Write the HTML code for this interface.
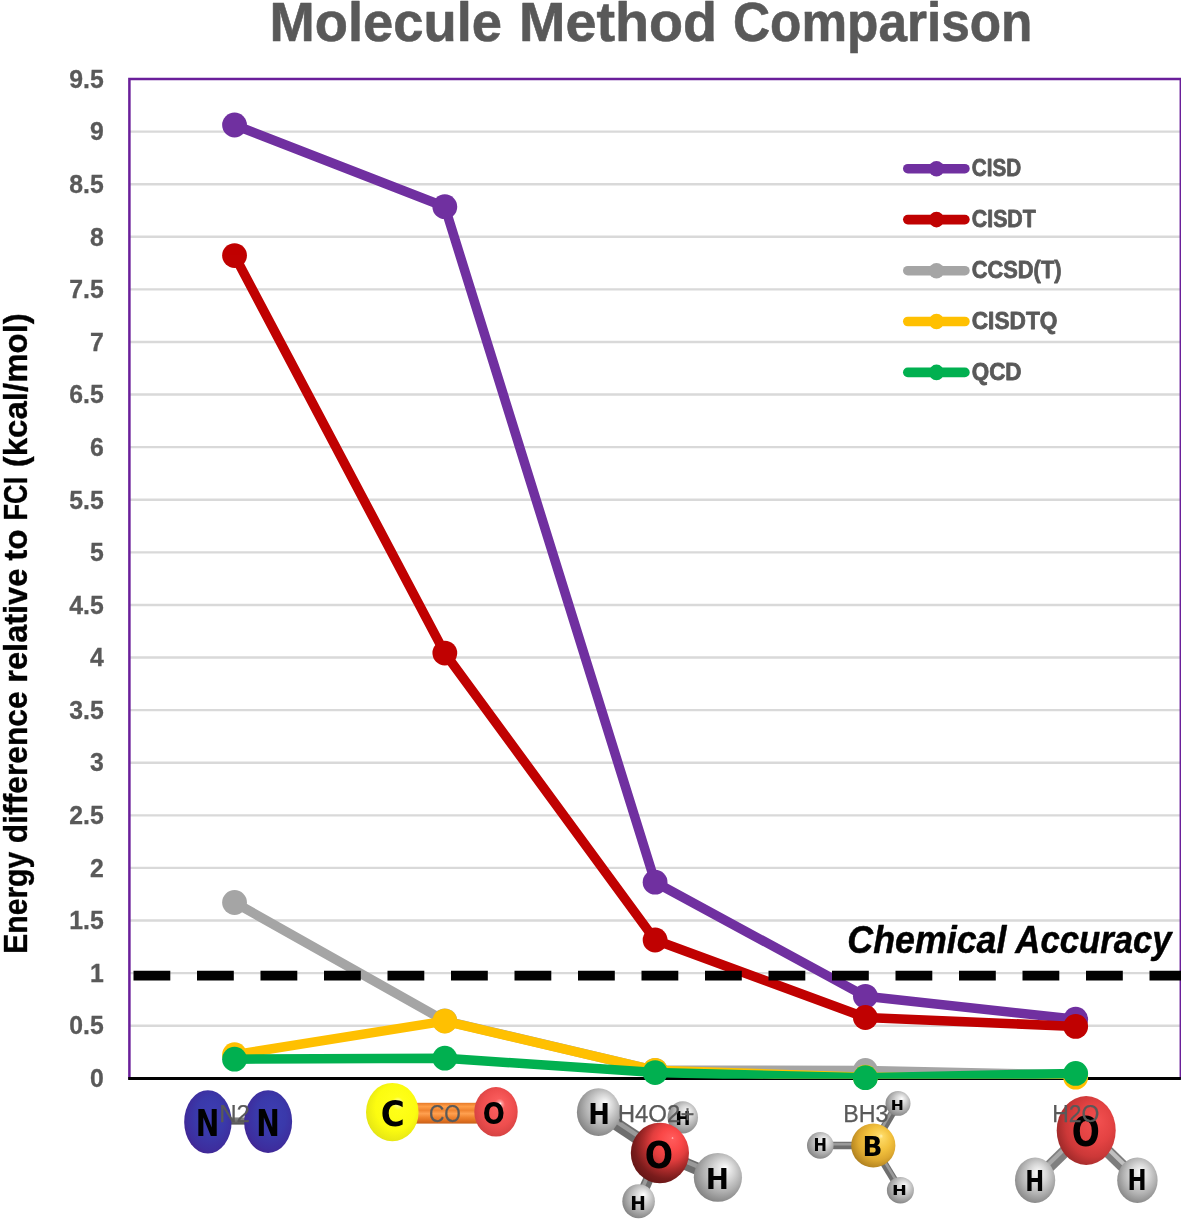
<!DOCTYPE html>
<html lang="en">
<head>
<meta charset="utf-8">
<title>Molecule Method Comparison</title>
<style>
html,body{margin:0;padding:0;background:#fff;}
body{width:1181px;height:1220px;overflow:hidden;}
svg{display:block;will-change:transform;opacity:0.999;}
text{white-space:pre;}
</style>
</head>
<body>
<svg width="1181" height="1220" viewBox="0 0 1181 1220">
<defs>
<radialGradient id="gH" cx="0.55" cy="0.45" r="0.68" fx="0.66" fy="0.3"><stop offset="0" stop-color="#FFFFFF"/><stop offset="0.1" stop-color="#F0F0F0"/><stop offset="0.33" stop-color="#D4D4D4"/><stop offset="0.58" stop-color="#B2B2B2"/><stop offset="0.82" stop-color="#8C8C8C"/><stop offset="1" stop-color="#686868"/></radialGradient>
<radialGradient id="gH2" cx="0.54" cy="0.45" r="0.68" fx="0.58" fy="0.32"><stop offset="0" stop-color="#FFFFFF"/><stop offset="0.1" stop-color="#F0F0F0"/><stop offset="0.33" stop-color="#D6D6D6"/><stop offset="0.58" stop-color="#B4B4B4"/><stop offset="0.82" stop-color="#8E8E8E"/><stop offset="1" stop-color="#6A6A6A"/></radialGradient>
<radialGradient id="gOco" cx="0.52" cy="0.48" r="0.62" fx="0.6" fy="0.33"><stop offset="0" stop-color="#FFFFFF"/><stop offset="0.06" stop-color="#FFA0A0"/><stop offset="0.2" stop-color="#F95C5C"/><stop offset="0.6" stop-color="#EE4E4E"/><stop offset="0.85" stop-color="#D84444"/><stop offset="1" stop-color="#B83636"/></radialGradient>
<radialGradient id="gOh4" cx="0.6" cy="0.4" r="0.74" fx="0.72" fy="0.25"><stop offset="0" stop-color="#FFD0D0"/><stop offset="0.03" stop-color="#FF5A5A"/><stop offset="0.26" stop-color="#FA4747"/><stop offset="0.42" stop-color="#E23E3E"/><stop offset="0.58" stop-color="#B02C2C"/><stop offset="0.76" stop-color="#7A1C1C"/><stop offset="1" stop-color="#541010"/></radialGradient>
<radialGradient id="gOw" cx="0.58" cy="0.45" r="0.72" fx="0.7" fy="0.35"><stop offset="0" stop-color="#F25050"/><stop offset="0.4" stop-color="#E44343"/><stop offset="0.65" stop-color="#CC3838"/><stop offset="0.85" stop-color="#A02A2A"/><stop offset="1" stop-color="#7A1E1E"/></radialGradient>
<radialGradient id="gC" cx="0.53" cy="0.47" r="0.64" fx="0.62" fy="0.33"><stop offset="0" stop-color="#FFFFFF"/><stop offset="0.06" stop-color="#FFFF90"/><stop offset="0.18" stop-color="#FFFF18"/><stop offset="0.6" stop-color="#FCFC10"/><stop offset="0.85" stop-color="#E8E814"/><stop offset="1" stop-color="#C4C41C"/></radialGradient>
<radialGradient id="gB" cx="0.56" cy="0.44" r="0.68" fx="0.68" fy="0.28"><stop offset="0" stop-color="#FFF2B0"/><stop offset="0.08" stop-color="#FDD964"/><stop offset="0.4" stop-color="#F3C23E"/><stop offset="0.65" stop-color="#DEA930"/><stop offset="0.85" stop-color="#B88822"/><stop offset="1" stop-color="#8C6416"/></radialGradient>
<radialGradient id="gN" cx="0.54" cy="0.46" r="0.62" fx="0.58" fy="0.36"><stop offset="0" stop-color="#3D3DB2"/><stop offset="0.5" stop-color="#3A39AA"/><stop offset="0.8" stop-color="#3D2E9E"/><stop offset="1" stop-color="#45208C"/></radialGradient>
<linearGradient id="gBondCO" x1="0" y1="0" x2="0" y2="1"><stop offset="0" stop-color="#E87A28"/><stop offset="0.18" stop-color="#FF9E48"/><stop offset="0.36" stop-color="#F08430"/><stop offset="0.52" stop-color="#FFA050"/><stop offset="0.70" stop-color="#F08430"/><stop offset="0.86" stop-color="#E07020"/><stop offset="1" stop-color="#C86018"/></linearGradient>
<linearGradient id="gBondN" x1="0" y1="0" x2="0" y2="1"><stop offset="0" stop-color="#8A8A8A"/><stop offset="0.5" stop-color="#707070"/><stop offset="1" stop-color="#505050"/></linearGradient>
<clipPath id="plotclip"><rect x="120" y="70" width="1070" height="1008.8"/></clipPath>
</defs>
<rect x="0" y="0" width="1181" height="1220" fill="#FFFFFF"/>
<line x1="129.40" y1="1025.71" x2="1180.80" y2="1025.71" stroke="#D9D9D9" stroke-width="2.4"/>
<line x1="129.40" y1="973.11" x2="1180.80" y2="973.11" stroke="#D9D9D9" stroke-width="2.4"/>
<line x1="129.40" y1="920.52" x2="1180.80" y2="920.52" stroke="#D9D9D9" stroke-width="2.4"/>
<line x1="129.40" y1="867.92" x2="1180.80" y2="867.92" stroke="#D9D9D9" stroke-width="2.4"/>
<line x1="129.40" y1="815.33" x2="1180.80" y2="815.33" stroke="#D9D9D9" stroke-width="2.4"/>
<line x1="129.40" y1="762.73" x2="1180.80" y2="762.73" stroke="#D9D9D9" stroke-width="2.4"/>
<line x1="129.40" y1="710.14" x2="1180.80" y2="710.14" stroke="#D9D9D9" stroke-width="2.4"/>
<line x1="129.40" y1="657.54" x2="1180.80" y2="657.54" stroke="#D9D9D9" stroke-width="2.4"/>
<line x1="129.40" y1="604.95" x2="1180.80" y2="604.95" stroke="#D9D9D9" stroke-width="2.4"/>
<line x1="129.40" y1="552.35" x2="1180.80" y2="552.35" stroke="#D9D9D9" stroke-width="2.4"/>
<line x1="129.40" y1="499.76" x2="1180.80" y2="499.76" stroke="#D9D9D9" stroke-width="2.4"/>
<line x1="129.40" y1="447.16" x2="1180.80" y2="447.16" stroke="#D9D9D9" stroke-width="2.4"/>
<line x1="129.40" y1="394.57" x2="1180.80" y2="394.57" stroke="#D9D9D9" stroke-width="2.4"/>
<line x1="129.40" y1="341.97" x2="1180.80" y2="341.97" stroke="#D9D9D9" stroke-width="2.4"/>
<line x1="129.40" y1="289.38" x2="1180.80" y2="289.38" stroke="#D9D9D9" stroke-width="2.4"/>
<line x1="129.40" y1="236.78" x2="1180.80" y2="236.78" stroke="#D9D9D9" stroke-width="2.4"/>
<line x1="129.40" y1="184.19" x2="1180.80" y2="184.19" stroke="#D9D9D9" stroke-width="2.4"/>
<line x1="129.40" y1="131.59" x2="1180.80" y2="131.59" stroke="#D9D9D9" stroke-width="2.4"/>
<rect x="129.40" y="79.00" width="1051.40" height="999.30" fill="none" stroke="#6A1F9A" stroke-width="2.5"/>
<line x1="128.20" y1="1078.45" x2="1180.80" y2="1078.45" stroke="#000000" stroke-width="3"/>
<polyline clip-path="url(#plotclip)" points="234.54,125.00 444.82,206.70 655.10,882.20 865.38,996.30 1075.66,1019.20" fill="none" stroke="#7030A0" stroke-width="9.5" stroke-linejoin="round" stroke-linecap="round"/>
<circle cx="234.54" cy="125.00" r="12.4" fill="#7030A0"/>
<circle cx="444.82" cy="206.70" r="12.4" fill="#7030A0"/>
<circle cx="655.10" cy="882.20" r="12.4" fill="#7030A0"/>
<circle cx="865.38" cy="996.30" r="12.4" fill="#7030A0"/>
<circle cx="1075.66" cy="1019.20" r="12.4" fill="#7030A0"/>
<polyline clip-path="url(#plotclip)" points="234.54,255.60 444.82,653.10 655.10,940.00 865.38,1017.50 1075.66,1026.40" fill="none" stroke="#C00000" stroke-width="9.5" stroke-linejoin="round" stroke-linecap="round"/>
<circle cx="234.54" cy="255.60" r="12.4" fill="#C00000"/>
<circle cx="444.82" cy="653.10" r="12.4" fill="#C00000"/>
<circle cx="655.10" cy="940.00" r="12.4" fill="#C00000"/>
<circle cx="865.38" cy="1017.50" r="12.4" fill="#C00000"/>
<circle cx="1075.66" cy="1026.40" r="12.4" fill="#C00000"/>
<polyline clip-path="url(#plotclip)" points="234.54,902.50 444.82,1020.80 655.10,1070.30 865.38,1070.40 1075.66,1075.00" fill="none" stroke="#A5A5A5" stroke-width="9.5" stroke-linejoin="round" stroke-linecap="round"/>
<circle cx="234.54" cy="902.50" r="12.4" fill="#A5A5A5"/>
<circle cx="444.82" cy="1020.80" r="12.4" fill="#A5A5A5"/>
<circle cx="655.10" cy="1070.30" r="12.4" fill="#A5A5A5"/>
<circle cx="865.38" cy="1070.40" r="12.4" fill="#A5A5A5"/>
<circle cx="1075.66" cy="1075.00" r="12.4" fill="#A5A5A5"/>
<polyline clip-path="url(#plotclip)" points="234.54,1054.70 444.82,1021.10 655.10,1070.30 865.38,1077.20 1075.66,1077.20" fill="none" stroke="#FFC000" stroke-width="9.5" stroke-linejoin="round" stroke-linecap="round"/>
<circle cx="234.54" cy="1054.70" r="12.4" fill="#FFC000"/>
<circle cx="444.82" cy="1021.10" r="12.4" fill="#FFC000"/>
<circle cx="655.10" cy="1070.30" r="12.4" fill="#FFC000"/>
<circle cx="865.38" cy="1077.20" r="12.4" fill="#FFC000"/>
<circle cx="1075.66" cy="1077.20" r="12.4" fill="#FFC000"/>
<polyline clip-path="url(#plotclip)" points="234.54,1059.20 444.82,1058.20 655.10,1072.60 865.38,1077.70 1075.66,1073.40" fill="none" stroke="#00B050" stroke-width="9.5" stroke-linejoin="round" stroke-linecap="round"/>
<circle cx="234.54" cy="1059.20" r="12.4" fill="#00B050"/>
<circle cx="444.82" cy="1058.20" r="12.4" fill="#00B050"/>
<circle cx="655.10" cy="1072.60" r="12.4" fill="#00B050"/>
<circle cx="865.38" cy="1077.70" r="12.4" fill="#00B050"/>
<circle cx="1075.66" cy="1073.40" r="12.4" fill="#00B050"/>
<line x1="133.5" y1="975.6" x2="1190" y2="975.6" stroke="#000000" stroke-width="9.6" stroke-dasharray="36.8 26.7"/>
<line x1="907.8" y1="168.70" x2="964.9" y2="168.70" stroke="#7030A0" stroke-width="9.6" stroke-linecap="round"/>
<ellipse cx="936.5" cy="168.70" rx="7.6" ry="7.8" fill="#7030A0"/>
<text x="971.85" y="176.45" font-family='"Liberation Sans", sans-serif' font-weight="bold" font-style="normal" font-size="23.11" textLength="49.42" lengthAdjust="spacingAndGlyphs" fill="#595959" stroke="#595959" stroke-width="0.80" stroke-linejoin="round">CISD</text>
<line x1="907.8" y1="219.60" x2="964.9" y2="219.60" stroke="#C00000" stroke-width="9.6" stroke-linecap="round"/>
<ellipse cx="936.5" cy="219.60" rx="7.6" ry="7.8" fill="#C00000"/>
<text x="971.82" y="227.35" font-family='"Liberation Sans", sans-serif' font-weight="bold" font-style="normal" font-size="23.11" textLength="64.00" lengthAdjust="spacingAndGlyphs" fill="#595959" stroke="#595959" stroke-width="0.80" stroke-linejoin="round">CISDT</text>
<line x1="907.8" y1="270.70" x2="964.9" y2="270.70" stroke="#A5A5A5" stroke-width="9.6" stroke-linecap="round"/>
<ellipse cx="936.5" cy="270.70" rx="7.6" ry="7.8" fill="#A5A5A5"/>
<text x="971.81" y="278.45" font-family='"Liberation Sans", sans-serif' font-weight="bold" font-style="normal" font-size="23.11" textLength="89.68" lengthAdjust="spacingAndGlyphs" fill="#595959" stroke="#595959" stroke-width="0.80" stroke-linejoin="round">CCSD(T)</text>
<line x1="907.8" y1="321.50" x2="964.9" y2="321.50" stroke="#FFC000" stroke-width="9.6" stroke-linecap="round"/>
<ellipse cx="936.5" cy="321.50" rx="7.6" ry="7.8" fill="#FFC000"/>
<text x="971.77" y="329.25" font-family='"Liberation Sans", sans-serif' font-weight="bold" font-style="normal" font-size="23.11" textLength="85.58" lengthAdjust="spacingAndGlyphs" fill="#595959" stroke="#595959" stroke-width="0.80" stroke-linejoin="round">CISDTQ</text>
<line x1="907.8" y1="372.40" x2="964.9" y2="372.40" stroke="#00B050" stroke-width="9.6" stroke-linecap="round"/>
<ellipse cx="936.5" cy="372.40" rx="7.6" ry="7.8" fill="#00B050"/>
<text x="971.78" y="380.15" font-family='"Liberation Sans", sans-serif' font-weight="bold" font-style="normal" font-size="23.11" textLength="49.76" lengthAdjust="spacingAndGlyphs" fill="#595959" stroke="#595959" stroke-width="0.80" stroke-linejoin="round">QCD</text>
<text x="269.57" y="40.70" font-family='"Liberation Sans", sans-serif' font-weight="bold" font-style="normal" font-size="55.81" textLength="232.49" lengthAdjust="spacingAndGlyphs" fill="#595959" stroke="#595959" stroke-width="0.60" stroke-linejoin="round">Molecule</text>
<text x="519.07" y="40.70" font-family='"Liberation Sans", sans-serif' font-weight="bold" font-style="normal" font-size="55.81" textLength="198.10" lengthAdjust="spacingAndGlyphs" fill="#595959" stroke="#595959" stroke-width="0.60" stroke-linejoin="round">Method</text>
<text x="733.00" y="40.70" font-family='"Liberation Sans", sans-serif' font-weight="bold" font-style="normal" font-size="55.81" textLength="299.39" lengthAdjust="spacingAndGlyphs" fill="#595959" stroke="#595959" stroke-width="0.60" stroke-linejoin="round">Comparison</text>
<text x="89.95" y="1087.05" font-family='"Liberation Sans", sans-serif' font-weight="bold" font-size="25.42" textLength="13.79" lengthAdjust="spacingAndGlyphs" fill="#595959" stroke="#595959" stroke-width="0.30">0</text>
<text x="69.28" y="1034.46" font-family='"Liberation Sans", sans-serif' font-weight="bold" font-size="25.42" textLength="34.46" lengthAdjust="spacingAndGlyphs" fill="#595959" stroke="#595959" stroke-width="0.30">0.5</text>
<text x="89.95" y="981.86" font-family='"Liberation Sans", sans-serif' font-weight="bold" font-size="25.42" textLength="13.79" lengthAdjust="spacingAndGlyphs" fill="#595959" stroke="#595959" stroke-width="0.30">1</text>
<text x="69.28" y="929.27" font-family='"Liberation Sans", sans-serif' font-weight="bold" font-size="25.42" textLength="34.46" lengthAdjust="spacingAndGlyphs" fill="#595959" stroke="#595959" stroke-width="0.30">1.5</text>
<text x="89.95" y="876.67" font-family='"Liberation Sans", sans-serif' font-weight="bold" font-size="25.42" textLength="13.79" lengthAdjust="spacingAndGlyphs" fill="#595959" stroke="#595959" stroke-width="0.30">2</text>
<text x="69.28" y="824.08" font-family='"Liberation Sans", sans-serif' font-weight="bold" font-size="25.42" textLength="34.46" lengthAdjust="spacingAndGlyphs" fill="#595959" stroke="#595959" stroke-width="0.30">2.5</text>
<text x="89.95" y="771.48" font-family='"Liberation Sans", sans-serif' font-weight="bold" font-size="25.42" textLength="13.79" lengthAdjust="spacingAndGlyphs" fill="#595959" stroke="#595959" stroke-width="0.30">3</text>
<text x="69.28" y="718.89" font-family='"Liberation Sans", sans-serif' font-weight="bold" font-size="25.42" textLength="34.46" lengthAdjust="spacingAndGlyphs" fill="#595959" stroke="#595959" stroke-width="0.30">3.5</text>
<text x="89.95" y="666.29" font-family='"Liberation Sans", sans-serif' font-weight="bold" font-size="25.42" textLength="13.79" lengthAdjust="spacingAndGlyphs" fill="#595959" stroke="#595959" stroke-width="0.30">4</text>
<text x="69.28" y="613.70" font-family='"Liberation Sans", sans-serif' font-weight="bold" font-size="25.42" textLength="34.46" lengthAdjust="spacingAndGlyphs" fill="#595959" stroke="#595959" stroke-width="0.30">4.5</text>
<text x="89.95" y="561.10" font-family='"Liberation Sans", sans-serif' font-weight="bold" font-size="25.42" textLength="13.79" lengthAdjust="spacingAndGlyphs" fill="#595959" stroke="#595959" stroke-width="0.30">5</text>
<text x="69.28" y="508.51" font-family='"Liberation Sans", sans-serif' font-weight="bold" font-size="25.42" textLength="34.46" lengthAdjust="spacingAndGlyphs" fill="#595959" stroke="#595959" stroke-width="0.30">5.5</text>
<text x="89.95" y="455.91" font-family='"Liberation Sans", sans-serif' font-weight="bold" font-size="25.42" textLength="13.79" lengthAdjust="spacingAndGlyphs" fill="#595959" stroke="#595959" stroke-width="0.30">6</text>
<text x="69.28" y="403.32" font-family='"Liberation Sans", sans-serif' font-weight="bold" font-size="25.42" textLength="34.46" lengthAdjust="spacingAndGlyphs" fill="#595959" stroke="#595959" stroke-width="0.30">6.5</text>
<text x="89.95" y="350.72" font-family='"Liberation Sans", sans-serif' font-weight="bold" font-size="25.42" textLength="13.79" lengthAdjust="spacingAndGlyphs" fill="#595959" stroke="#595959" stroke-width="0.30">7</text>
<text x="69.28" y="298.13" font-family='"Liberation Sans", sans-serif' font-weight="bold" font-size="25.42" textLength="34.46" lengthAdjust="spacingAndGlyphs" fill="#595959" stroke="#595959" stroke-width="0.30">7.5</text>
<text x="89.95" y="245.53" font-family='"Liberation Sans", sans-serif' font-weight="bold" font-size="25.42" textLength="13.79" lengthAdjust="spacingAndGlyphs" fill="#595959" stroke="#595959" stroke-width="0.30">8</text>
<text x="69.28" y="192.94" font-family='"Liberation Sans", sans-serif' font-weight="bold" font-size="25.42" textLength="34.46" lengthAdjust="spacingAndGlyphs" fill="#595959" stroke="#595959" stroke-width="0.30">8.5</text>
<text x="89.95" y="140.34" font-family='"Liberation Sans", sans-serif' font-weight="bold" font-size="25.42" textLength="13.79" lengthAdjust="spacingAndGlyphs" fill="#595959" stroke="#595959" stroke-width="0.30">9</text>
<text x="69.28" y="87.75" font-family='"Liberation Sans", sans-serif' font-weight="bold" font-size="25.42" textLength="34.46" lengthAdjust="spacingAndGlyphs" fill="#595959" stroke="#595959" stroke-width="0.30">9.5</text>
<g transform="translate(26.8,951.9) rotate(-90)"><text x="-1.84" y="-0.17" font-family='"Liberation Sans", sans-serif' font-weight="bold" font-style="normal" font-size="34.01" textLength="101.92" lengthAdjust="spacingAndGlyphs" fill="#000000" stroke="#000000" stroke-width="0.35" stroke-linejoin="round">Energy</text><text x="108.77" y="-0.17" font-family='"Liberation Sans", sans-serif' font-weight="bold" font-style="normal" font-size="34.01" textLength="151.74" lengthAdjust="spacingAndGlyphs" fill="#000000" stroke="#000000" stroke-width="0.35" stroke-linejoin="round">difference</text><text x="269.23" y="-0.17" font-family='"Liberation Sans", sans-serif' font-weight="bold" font-style="normal" font-size="34.01" textLength="114.01" lengthAdjust="spacingAndGlyphs" fill="#000000" stroke="#000000" stroke-width="0.35" stroke-linejoin="round">relative</text><text x="391.07" y="-0.17" font-family='"Liberation Sans", sans-serif' font-weight="bold" font-style="normal" font-size="34.01" textLength="31.35" lengthAdjust="spacingAndGlyphs" fill="#000000" stroke="#000000" stroke-width="0.35" stroke-linejoin="round">to</text><text x="431.46" y="-0.17" font-family='"Liberation Sans", sans-serif' font-weight="bold" font-style="normal" font-size="34.01" textLength="43.68" lengthAdjust="spacingAndGlyphs" fill="#000000" stroke="#000000" stroke-width="0.35" stroke-linejoin="round">FCI</text><text x="484.63" y="-0.17" font-family='"Liberation Sans", sans-serif' font-weight="bold" font-style="normal" font-size="34.01" textLength="154.14" lengthAdjust="spacingAndGlyphs" fill="#000000" stroke="#000000" stroke-width="0.35" stroke-linejoin="round">(kcal/mol)</text></g>
<text x="847.30" y="952.50" font-family='"Liberation Sans", sans-serif' font-weight="bold" font-style="italic" font-size="38.84" textLength="159.14" lengthAdjust="spacingAndGlyphs" fill="#000000" stroke="#000000" stroke-width="0.50" stroke-linejoin="round">Chemical</text>
<text x="1015.36" y="952.50" font-family='"Liberation Sans", sans-serif' font-weight="bold" font-style="italic" font-size="38.84" textLength="156.25" lengthAdjust="spacingAndGlyphs" fill="#000000" stroke="#000000" stroke-width="0.50" stroke-linejoin="round">Accuracy</text>
<rect x="229" y="1117.4" width="19" height="7.2" fill="url(#gBondN)"/>
<ellipse cx="207.9" cy="1121.9" rx="23.7" ry="31.7" fill="url(#gN)"/>
<ellipse cx="268.1" cy="1121.6" rx="24.0" ry="31.4" fill="url(#gN)"/>
<text x="195.81" y="1135.80" font-family='"DejaVu Sans", "Liberation Sans", sans-serif' font-weight="bold" font-style="normal" font-size="36.63" textLength="23.57" lengthAdjust="spacingAndGlyphs" fill="#000000">N</text>
<text x="256.31" y="1135.80" font-family='"DejaVu Sans", "Liberation Sans", sans-serif' font-weight="bold" font-style="normal" font-size="36.63" textLength="23.57" lengthAdjust="spacingAndGlyphs" fill="#000000">N</text>
<rect x="410" y="1102.8" width="72" height="20.8" fill="url(#gBondCO)"/>
<ellipse cx="392.3" cy="1112.1" rx="26.3" ry="29.2" fill="url(#gC)"/>
<ellipse cx="496.0" cy="1111.8" rx="21.7" ry="24.8" fill="url(#gOco)"/>
<text x="380.67" y="1126.19" font-family='"DejaVu Sans", "Liberation Sans", sans-serif' font-weight="bold" font-style="normal" font-size="35.70" textLength="24.02" lengthAdjust="spacingAndGlyphs" fill="#000000">C</text>
<text x="482.81" y="1124.16" font-family='"DejaVu Sans", "Liberation Sans", sans-serif' font-weight="bold" font-style="normal" font-size="30.94" textLength="22.10" lengthAdjust="spacingAndGlyphs" fill="#000000">O</text>
<ellipse cx="682.8" cy="1117.4" rx="15.2" ry="16.1" fill="url(#gH)"/>
<line x1="598.5" y1="1112.2" x2="659.9" y2="1153.0" stroke="#6E6E6E" stroke-width="12.5"/>
<line x1="599.7" y1="1110.3" x2="661.1" y2="1151.1" stroke="#9A9A9A" stroke-width="4.4"/>
<line x1="717.9" y1="1177.4" x2="659.9" y2="1153.0" stroke="#6E6E6E" stroke-width="12.5"/>
<line x1="718.8" y1="1175.3" x2="660.8" y2="1150.9" stroke="#9A9A9A" stroke-width="4.4"/>
<line x1="638.6" y1="1201.2" x2="659.9" y2="1153.0" stroke="#6E6E6E" stroke-width="10.5"/>
<line x1="636.9" y1="1200.4" x2="658.2" y2="1152.2" stroke="#9A9A9A" stroke-width="3.7"/>
<ellipse cx="659.9" cy="1153.0" rx="29.1" ry="30.2" fill="url(#gOh4)"/>
<ellipse cx="598.5" cy="1112.2" rx="21.6" ry="23.9" fill="url(#gH)"/>
<ellipse cx="717.9" cy="1177.4" rx="24.1" ry="24.4" fill="url(#gH)"/>
<ellipse cx="638.6" cy="1201.2" rx="16.3" ry="17.0" fill="url(#gH)"/>
<text x="588.13" y="1123.90" font-family='"DejaVu Sans", "Liberation Sans", sans-serif' font-weight="bold" font-style="normal" font-size="28.67" textLength="21.65" lengthAdjust="spacingAndGlyphs" fill="#000000">H</text>
<text x="644.74" y="1168.08" font-family='"DejaVu Sans", "Liberation Sans", sans-serif' font-weight="bold" font-style="normal" font-size="36.76" textLength="28.34" lengthAdjust="spacingAndGlyphs" fill="#000000">O</text>
<text x="705.66" y="1188.50" font-family='"DejaVu Sans", "Liberation Sans", sans-serif' font-weight="bold" font-style="normal" font-size="27.85" textLength="23.19" lengthAdjust="spacingAndGlyphs" fill="#000000">H</text>
<text x="675.13" y="1125.00" font-family='"DejaVu Sans", "Liberation Sans", sans-serif' font-weight="bold" font-style="normal" font-size="18.52" textLength="15.24" lengthAdjust="spacingAndGlyphs" fill="#000000">H</text>
<text x="630.29" y="1209.70" font-family='"DejaVu Sans", "Liberation Sans", sans-serif' font-weight="bold" font-style="normal" font-size="19.75" textLength="15.63" lengthAdjust="spacingAndGlyphs" fill="#000000">H</text>
<line x1="873.3" y1="1145.5" x2="898.0" y2="1103.4" stroke="#6E6E6E" stroke-width="7.5"/>
<line x1="872.1" y1="1144.8" x2="896.8" y2="1102.7" stroke="#9A9A9A" stroke-width="2.6"/>
<line x1="873.3" y1="1145.5" x2="820.3" y2="1145.4" stroke="#6E6E6E" stroke-width="7.5"/>
<line x1="873.3" y1="1144.2" x2="820.3" y2="1144.1" stroke="#9A9A9A" stroke-width="2.6"/>
<line x1="873.3" y1="1145.5" x2="900.4" y2="1190.2" stroke="#6E6E6E" stroke-width="7.5"/>
<line x1="874.5" y1="1144.8" x2="901.6" y2="1189.5" stroke="#9A9A9A" stroke-width="2.6"/>
<ellipse cx="873.3" cy="1145.5" rx="22.1" ry="22.0" fill="url(#gB)"/>
<ellipse cx="898.0" cy="1103.4" rx="12.5" ry="12.4" fill="url(#gH)"/>
<ellipse cx="820.3" cy="1145.4" rx="13.3" ry="13.3" fill="url(#gH)"/>
<ellipse cx="900.4" cy="1190.2" rx="13.5" ry="13.3" fill="url(#gH)"/>
<text x="862.40" y="1156.40" font-family='"DejaVu Sans", "Liberation Sans", sans-serif' font-weight="bold" font-style="normal" font-size="26.61" textLength="19.94" lengthAdjust="spacingAndGlyphs" fill="#000000">B</text>
<text x="890.87" y="1109.60" font-family='"DejaVu Sans", "Liberation Sans", sans-serif' font-weight="bold" font-style="normal" font-size="14.95" textLength="13.07" lengthAdjust="spacingAndGlyphs" fill="#000000">H</text>
<text x="813.52" y="1151.30" font-family='"DejaVu Sans", "Liberation Sans", sans-serif' font-weight="bold" font-style="normal" font-size="16.87" textLength="13.45" lengthAdjust="spacingAndGlyphs" fill="#000000">H</text>
<text x="891.97" y="1195.30" font-family='"DejaVu Sans", "Liberation Sans", sans-serif' font-weight="bold" font-style="normal" font-size="14.81" textLength="14.86" lengthAdjust="spacingAndGlyphs" fill="#000000">H</text>
<line x1="1086.2" y1="1130.5" x2="1035.1" y2="1180.2" stroke="#808080" stroke-width="12.0"/>
<line x1="1084.7" y1="1129.0" x2="1033.6" y2="1178.7" stroke="#A8A8A8" stroke-width="4.2"/>
<line x1="1086.2" y1="1130.5" x2="1137.4" y2="1180.2" stroke="#7C7C7C" stroke-width="12.0"/>
<line x1="1087.7" y1="1129.0" x2="1138.9" y2="1178.7" stroke="#C0C0C0" stroke-width="4.2"/>
<ellipse cx="1086.2" cy="1130.5" rx="29.5" ry="34.5" fill="url(#gOw)"/>
<ellipse cx="1035.1" cy="1180.2" rx="20.1" ry="22.8" fill="url(#gH2)"/>
<ellipse cx="1137.4" cy="1180.2" rx="20.2" ry="22.8" fill="url(#gH2)"/>
<text x="1071.65" y="1146.02" font-family='"DejaVu Sans", "Liberation Sans", sans-serif' font-weight="bold" font-style="normal" font-size="40.85" textLength="28.11" lengthAdjust="spacingAndGlyphs" fill="#000000">O</text>
<text x="1025.22" y="1191.00" font-family='"DejaVu Sans", "Liberation Sans", sans-serif' font-weight="bold" font-style="normal" font-size="28.26" textLength="18.96" lengthAdjust="spacingAndGlyphs" fill="#000000">H</text>
<text x="1127.41" y="1190.30" font-family='"DejaVu Sans", "Liberation Sans", sans-serif' font-weight="bold" font-style="normal" font-size="28.81" textLength="19.09" lengthAdjust="spacingAndGlyphs" fill="#000000">H</text>
<text x="219.15" y="1122.20" font-family='"Liberation Sans", sans-serif' font-weight="normal" font-style="normal" font-size="24.71" textLength="30.73" lengthAdjust="spacingAndGlyphs" fill="#595959" stroke="#595959" stroke-width="0.25" stroke-linejoin="round">N2</text>
<text x="429.05" y="1122.20" font-family='"Liberation Sans", sans-serif' font-weight="normal" font-style="normal" font-size="24.71" textLength="31.84" lengthAdjust="spacingAndGlyphs" fill="#595959" stroke="#595959" stroke-width="0.25" stroke-linejoin="round">CO</text>
<text x="617.65" y="1122.20" font-family='"Liberation Sans", sans-serif' font-weight="normal" font-style="normal" font-size="24.71" textLength="76.81" lengthAdjust="spacingAndGlyphs" fill="#595959" stroke="#595959" stroke-width="0.25" stroke-linejoin="round">H4O2+</text>
<text x="843.22" y="1122.20" font-family='"Liberation Sans", sans-serif' font-weight="normal" font-style="normal" font-size="24.71" textLength="45.18" lengthAdjust="spacingAndGlyphs" fill="#595959" stroke="#595959" stroke-width="0.25" stroke-linejoin="round">BH3</text>
<text x="1052.14" y="1122.20" font-family='"Liberation Sans", sans-serif' font-weight="normal" font-style="normal" font-size="24.71" textLength="47.13" lengthAdjust="spacingAndGlyphs" fill="#595959" stroke="#595959" stroke-width="0.25" stroke-linejoin="round">H2O</text>
</svg>
</body>
</html>
